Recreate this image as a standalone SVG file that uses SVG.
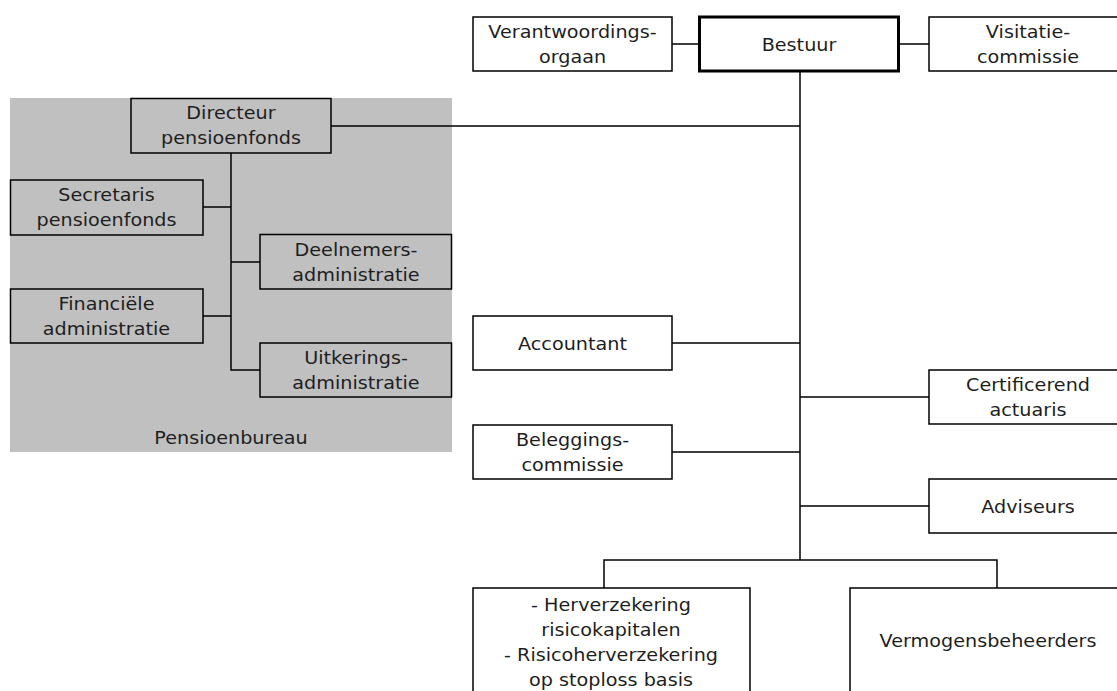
<svg xmlns="http://www.w3.org/2000/svg" width="1117" height="691" viewBox="0 0 1117 691">
<style>
.box{fill:#fff;stroke:#000;stroke-width:1.5}
.gbox{fill:none;stroke:#000;stroke-width:1.5}
.main{fill:#fff;stroke:#000;stroke-width:3}
.ln{fill:none;stroke:#000;stroke-width:1.5}
text{font-family:"DejaVu Sans",Verdana,sans-serif;font-size:17px;fill:#1e1e1e;text-anchor:middle}
</style>
<rect width="1117" height="691" fill="#fff"/>
<g id="pensioenbureau">
<rect x="10" y="98" width="442" height="354" fill="#c0c0c0"/>
<text transform="translate(231,444) scale(1.13,1)">Pensioenbureau</text>
</g>
<g id="connectors">
<path class="ln" d="M672 44H699M898 44H929M800 71V560M331 126H800M672 343H800M800 397H929M672 452H800M800 506H929M604 588V560H997V588"/>
<path class="ln" d="M231 153V370H260M203 207H231M231 262H260M203 316H231"/>
</g>
<g id="verantwoordingsorgaan">
<rect class="box" x="473" y="17" width="199" height="54"/>
<text transform="translate(572.5,38) scale(1.13,1)">Verantwoordings-</text>
<text transform="translate(572.5,63) scale(1.13,1)">orgaan</text>
</g>
<g id="bestuur">
<rect class="main" x="699.5" y="17" width="199" height="54"/>
<text transform="translate(799,51) scale(1.13,1)">Bestuur</text>
</g>
<g id="visitatiecommissie">
<rect class="box" x="929" y="17" width="199" height="54"/>
<text transform="translate(1028,38) scale(1.13,1)">Visitatie-</text>
<text transform="translate(1028,63) scale(1.13,1)">commissie</text>
</g>
<g id="directeur">
<rect class="gbox" x="131" y="98.5" width="200" height="54.5"/>
<text transform="translate(231,119) scale(1.13,1)">Directeur</text>
<text transform="translate(231,144) scale(1.13,1)">pensioenfonds</text>
</g>
<g id="secretaris">
<rect class="gbox" x="10.5" y="180" width="192.5" height="55"/>
<text transform="translate(106.5,201) scale(1.13,1)">Secretaris</text>
<text transform="translate(106.5,226) scale(1.13,1)">pensioenfonds</text>
</g>
<g id="deelnemers">
<rect class="gbox" x="260" y="234.5" width="191.5" height="54.5"/>
<text transform="translate(356,255.5) scale(1.13,1)">Deelnemers-</text>
<text transform="translate(356,280.5) scale(1.13,1)">administratie</text>
</g>
<g id="financiele">
<rect class="gbox" x="10.5" y="289" width="192.5" height="54"/>
<text transform="translate(106.5,310) scale(1.13,1)">Financiële</text>
<text transform="translate(106.5,335) scale(1.13,1)">administratie</text>
</g>
<g id="uitkerings">
<rect class="gbox" x="260" y="343" width="191.5" height="54"/>
<text transform="translate(356,364) scale(1.13,1)">Uitkerings-</text>
<text transform="translate(356,389) scale(1.13,1)">administratie</text>
</g>
<g id="accountant">
<rect class="box" x="473" y="316" width="199" height="54"/>
<text transform="translate(572.5,350) scale(1.13,1)">Accountant</text>
</g>
<g id="certificerend">
<rect class="box" x="929" y="370" width="199" height="54"/>
<text transform="translate(1028,391) scale(1.13,1)">Certificerend</text>
<text transform="translate(1028,416) scale(1.13,1)">actuaris</text>
</g>
<g id="beleggingscommissie">
<rect class="box" x="473" y="425" width="199" height="54"/>
<text transform="translate(572.5,446) scale(1.13,1)">Beleggings-</text>
<text transform="translate(572.5,471) scale(1.13,1)">commissie</text>
</g>
<g id="adviseurs">
<rect class="box" x="929" y="479" width="199" height="54"/>
<text transform="translate(1028,513) scale(1.13,1)">Adviseurs</text>
</g>
<g id="herverzekering">
<rect class="box" x="473" y="588" width="277" height="115"/>
<text transform="translate(611,611) scale(1.13,1)">- Herverzekering</text>
<text transform="translate(611,636) scale(1.13,1)">risicokapitalen</text>
<text transform="translate(611,661) scale(1.13,1)">- Risicoherverzekering</text>
<text transform="translate(611,686) scale(1.13,1)">op stoploss basis</text>
</g>
<g id="vermogensbeheerders">
<rect class="box" x="850" y="588" width="277" height="115"/>
<text transform="translate(988,647) scale(1.13,1)">Vermogensbeheerders</text>
</g>
</svg>
